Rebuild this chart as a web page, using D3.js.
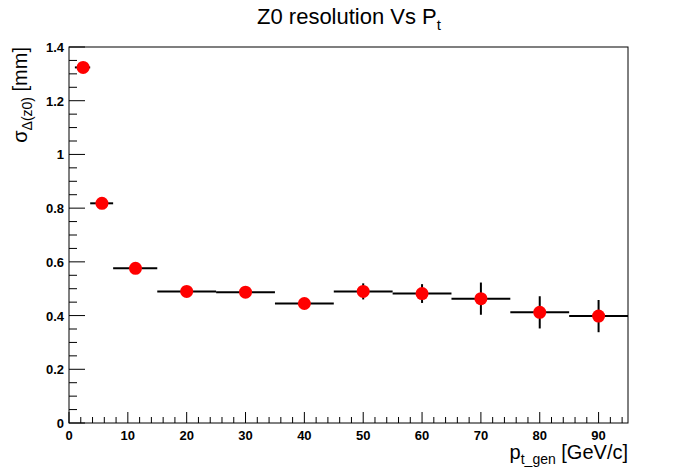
<!DOCTYPE html>
<html><head><meta charset="utf-8">
<script src="https://cdn.jsdelivr.net/npm/d3@7"></script>
<style>body{margin:0;background:#fff;font-family:"Liberation Sans",Arial,sans-serif}</style>
</head><body><div id="graph"></div>
<script>
// data
const xCenter = [2.4, 5.6, 11.3, 20, 30, 40, 50, 60, 70, 80, 90];
const xLow    = [1, 3.6, 7.5, 15, 25, 35, 45, 55, 65, 75, 85];
const xHigh   = [3.6, 7.5, 15, 25, 35, 45, 55, 65, 75, 85, 95];
const yValue  = [1.324, 0.818, 0.576, 0.49, 0.487, 0.445, 0.49, 0.482, 0.463, 0.412, 0.398];
const yErr    = [0.005, 0.006, 0.008, 0.01, 0.012, 0.015, 0.03, 0.035, 0.06, 0.06, 0.06];
const yTicks  = [0, 0.2, 0.4, 0.6, 0.8, 1, 1.2, 1.4];
const xTicks  = [0, 10, 20, 30, 40, 50, 60, 70, 80, 90];

const w = 698, h = 471;
const padL = 69, padR = 628, padT = 47, padB = 423;

const x = d3.scaleLinear().domain([0, 95]).range([padL, padR]);
const y = d3.scaleLinear().domain([0, 1.4]).range([padB, padT]);

const svg = d3.select("#graph").append("svg").attr("width", w).attr("height", h);

// frame
svg.append("rect").attr("x", padL).attr("y", padT).attr("width", padR - padL).attr("height", padB - padT)
  .attr("fill", "none").attr("stroke", "#000").attr("stroke-width", 1);

// y ticks (inside the frame)
d3.range(0, 1.4001, 0.05).forEach((v, i) => {
  const major = i % 4 === 0;
  svg.append("line").attr("x1", padL).attr("x2", padL + (major ? 16 : 8))
    .attr("y1", y(v)).attr("y2", y(v)).attr("stroke", "#000");
});
svg.append("g").selectAll("text").data(yTicks).enter().append("text")
  .attr("x", padL - 5).attr("y", d => y(d) + 5).attr("text-anchor", "end")
  .attr("font-size", 13).attr("font-weight", "bold").text(d => d3.format("~g")(d));

// x ticks
d3.range(0, 95.001, 2).forEach(v => {
  const major = v % 10 === 0;
  svg.append("line").attr("x1", x(v)).attr("x2", x(v))
    .attr("y1", padB).attr("y2", padB - (major ? 11 : 6)).attr("stroke", "#000");
});
svg.append("g").selectAll("text").data(xTicks).enter().append("text")
  .attr("x", d => x(d)).attr("y", padB + 17).attr("text-anchor", "middle")
  .attr("font-size", 13).attr("font-weight", "bold").text(d => d);

// error bars
const pts = xCenter.map((c, i) => ({c, lo: xLow[i], hi: xHigh[i], v: yValue[i], e: yErr[i]}));
svg.selectAll(".xerr").data(pts).enter().append("line")
  .attr("x1", d => x(d.lo)).attr("x2", d => x(d.hi))
  .attr("y1", d => y(d.v)).attr("y2", d => y(d.v)).attr("stroke", "#000").attr("stroke-width", 2);
svg.selectAll(".yerr").data(pts).enter().append("line")
  .attr("x1", d => x(d.c)).attr("x2", d => x(d.c))
  .attr("y1", d => y(d.v - d.e)).attr("y2", d => y(d.v + d.e)).attr("stroke", "#000").attr("stroke-width", 2);
svg.selectAll("circle").data(pts).enter().append("circle")
  .attr("cx", d => x(d.c)).attr("cy", d => y(d.v)).attr("r", 6.5).attr("fill", "#ff0000");

// title
const t = svg.append("text").attr("x", 349).attr("y", 24).attr("text-anchor", "middle").attr("font-size", 22);
t.append("tspan").text("Z0 resolution Vs P");
t.append("tspan").attr("font-size", 15).attr("dy", 6).text("t");

// x label
const xl = svg.append("text").attr("x", padR).attr("y", 459).attr("text-anchor", "end").attr("font-size", 20);
xl.append("tspan").text("p");
xl.append("tspan").attr("font-size", 14).attr("dy", 5).text("t_gen");
xl.append("tspan").attr("dy", -5).text(" [GeV/c]");

// y label
const yl = svg.append("text").attr("transform", "translate(27," + padT + ") rotate(-90)")
  .attr("text-anchor", "end").attr("font-size", 20);
yl.append("tspan").text("σ");
yl.append("tspan").attr("font-size", 14).attr("dy", 5).text("Δ(z0)");
yl.append("tspan").attr("dy", -5).text(" [mm]");
</script></body></html>
